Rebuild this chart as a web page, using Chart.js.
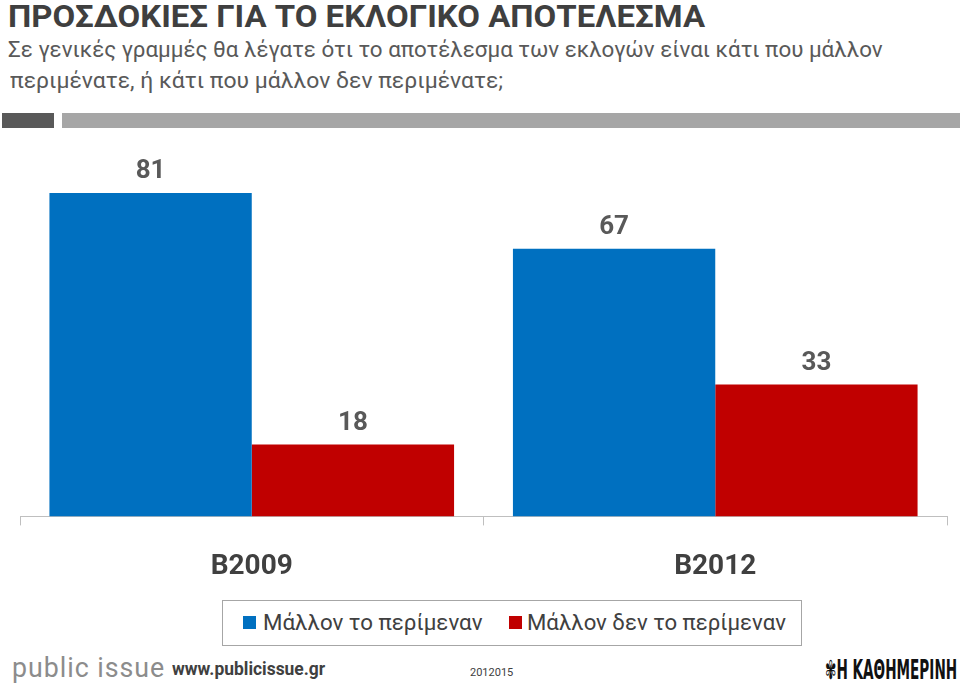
<!DOCTYPE html>
<html>
<head>
<meta charset="utf-8">
<script src="https://cdn.jsdelivr.net/npm/chart.js@4/dist/chart.umd.min.js"></script>
<style>
  body { margin: 0; width: 960px; height: 684px; overflow: hidden; background: #fff; position: relative;
         font-family: Roboto, "Noto Sans", sans-serif; }
  .t { position: absolute; white-space: nowrap; transform-origin: 0 0; line-height: 1; }
  .bar { position: absolute; }
  #chartBox { position: absolute; left: 0; top: 110px; width: 960px; height: 509px; }
  #legend { position: absolute; left: 222px; top: 600px; width: 578px; height: 44px;
            border: 1px solid #a6a6a6; box-sizing: content-box; background: #fff; }
  .sw { position: absolute; width: 13px; height: 13px; top: 15px; }
</style>
</head>
<body>
<div class="t" data-w="697" style="left:8px;top:0px;font-size:32px;font-weight:bold;color:#3f3f3f">ΠΡΟΣΔΟΚΙΕΣ ΓΙΑ ΤΟ ΕΚΛΟΓΙΚΟ ΑΠΟΤΕΛΕΣΜΑ</div>
<div class="t" data-w="875" style="left:8px;top:39px;font-size:22px;color:#595959">Σε γενικές γραμμές θα λέγατε ότι το αποτέλεσμα των εκλογών είναι κάτι που μάλλον</div>
<div class="t" data-w="493" style="left:10px;top:70px;font-size:22px;color:#595959">περιμένατε, ή κάτι που μάλλον δεν περιμένατε;</div>
<div class="bar" style="left:2px;top:113px;width:52px;height:15px;background:#595959"></div>
<div class="bar" style="left:62px;top:113px;width:898px;height:15px;background:#a6a6a6"></div>

<div id="chartBox"><canvas id="chart" width="960" height="509"></canvas></div>
<div id="legend"></div>

<div class="t" data-w="153" style="left:12px;top:654px;font-size:28px;color:#8c8c8c;letter-spacing:1px">public issue</div>
<div class="t" data-w="153" style="left:172px;top:660px;font-size:18px;font-weight:bold;color:#404040">www.publicissue.gr</div>
<div class="t" data-w="43" style="left:470px;top:667px;font-size:11px;color:#404040">2012015</div>
<div class="t" data-w="132" style="left:825px;top:657px;font-size:26px;font-weight:bold;color:#111;font-family:'Liberation Sans Narrow','DejaVu Sans Condensed',sans-serif">✾Η ΚΑΘΗΜΕΡΙΝΗ</div>

<script>
const categories = ['B2009', 'B2012'];
const seriesNames = ['Μάλλον το περίμεναν', 'Μάλλον δεν το περίμεναν'];
const expectedValues = [81, 67];
const unexpectedValues = [18, 33];
const seriesColors = ['#0070c0', '#c00000'];

// squeeze the html text to the widths of the original (Calibri is narrow)
document.querySelectorAll('.t[data-w]').forEach(el => {
  const s = Number(el.dataset.w) / el.offsetWidth;
  el.style.transform = 'scaleX(' + s + ')';
});

// value labels above each bar
const valueLabels = {
  id: 'valueLabels',
  afterDatasetsDraw(chart) {
    const ctx = chart.ctx;
    ctx.save();
    ctx.font = 'bold 26px Roboto, "Noto Sans", sans-serif';
    ctx.fillStyle = '#595959';
    ctx.textAlign = 'center';
    ctx.textBaseline = 'middle';
    chart.data.datasets.forEach((ds, i) => {
      chart.getDatasetMeta(i).data.forEach((bar, j) => {
        ctx.fillText(ds.data[j], bar.x, bar.y - 21);
      });
    });
    ctx.restore();
  }
};

new Chart(document.getElementById('chart'), {
  type: 'bar',
  data: {
    labels: categories,
    datasets: [
      { label: seriesNames[0], data: expectedValues, backgroundColor: seriesColors[0] },
      { label: seriesNames[1], data: unexpectedValues, backgroundColor: seriesColors[1] }
    ]
  },
  options: {
    responsive: false,
    animation: false,
    layout: { padding: { left: 20, right: 13, top: 7, bottom: 10 } },
    datasets: { bar: { barPercentage: 1, categoryPercentage: 0.873 } },
    plugins: { legend: { display: false }, tooltip: { enabled: false } },
    scales: {
      x: {
        grid: { offset: true, drawOnChartArea: false, tickLength: 9, color: '#bfbfbf' },
        border: { color: '#bfbfbf' },
        ticks: { color: '#404040', padding: 25, font: { size: 28, weight: 'bold', family: 'Roboto, "Noto Sans", sans-serif' } }
      },
      y: { display: false, min: 0, max: 100 }
    }
  },
  plugins: [valueLabels]
});

// legend box
const legend = document.getElementById('legend');
const itemX = [[20, 40], [286, 304]];
seriesNames.forEach((name, i) => {
  const sw = document.createElement('div');
  sw.className = 'sw';
  sw.style.left = itemX[i][0] + 'px';
  sw.style.background = seriesColors[i];
  legend.appendChild(sw);
  const tx = document.createElement('div');
  tx.className = 't';
  tx.textContent = name;
  tx.style.cssText = 'left:' + itemX[i][1] + 'px;top:11px;font-size:22px;color:#404040';
  legend.appendChild(tx);
  const w = i === 0 ? 220 : 259;
  tx.style.transform = 'scaleX(' + (w / tx.offsetWidth) + ')';
});
</script>
</body>
</html>
